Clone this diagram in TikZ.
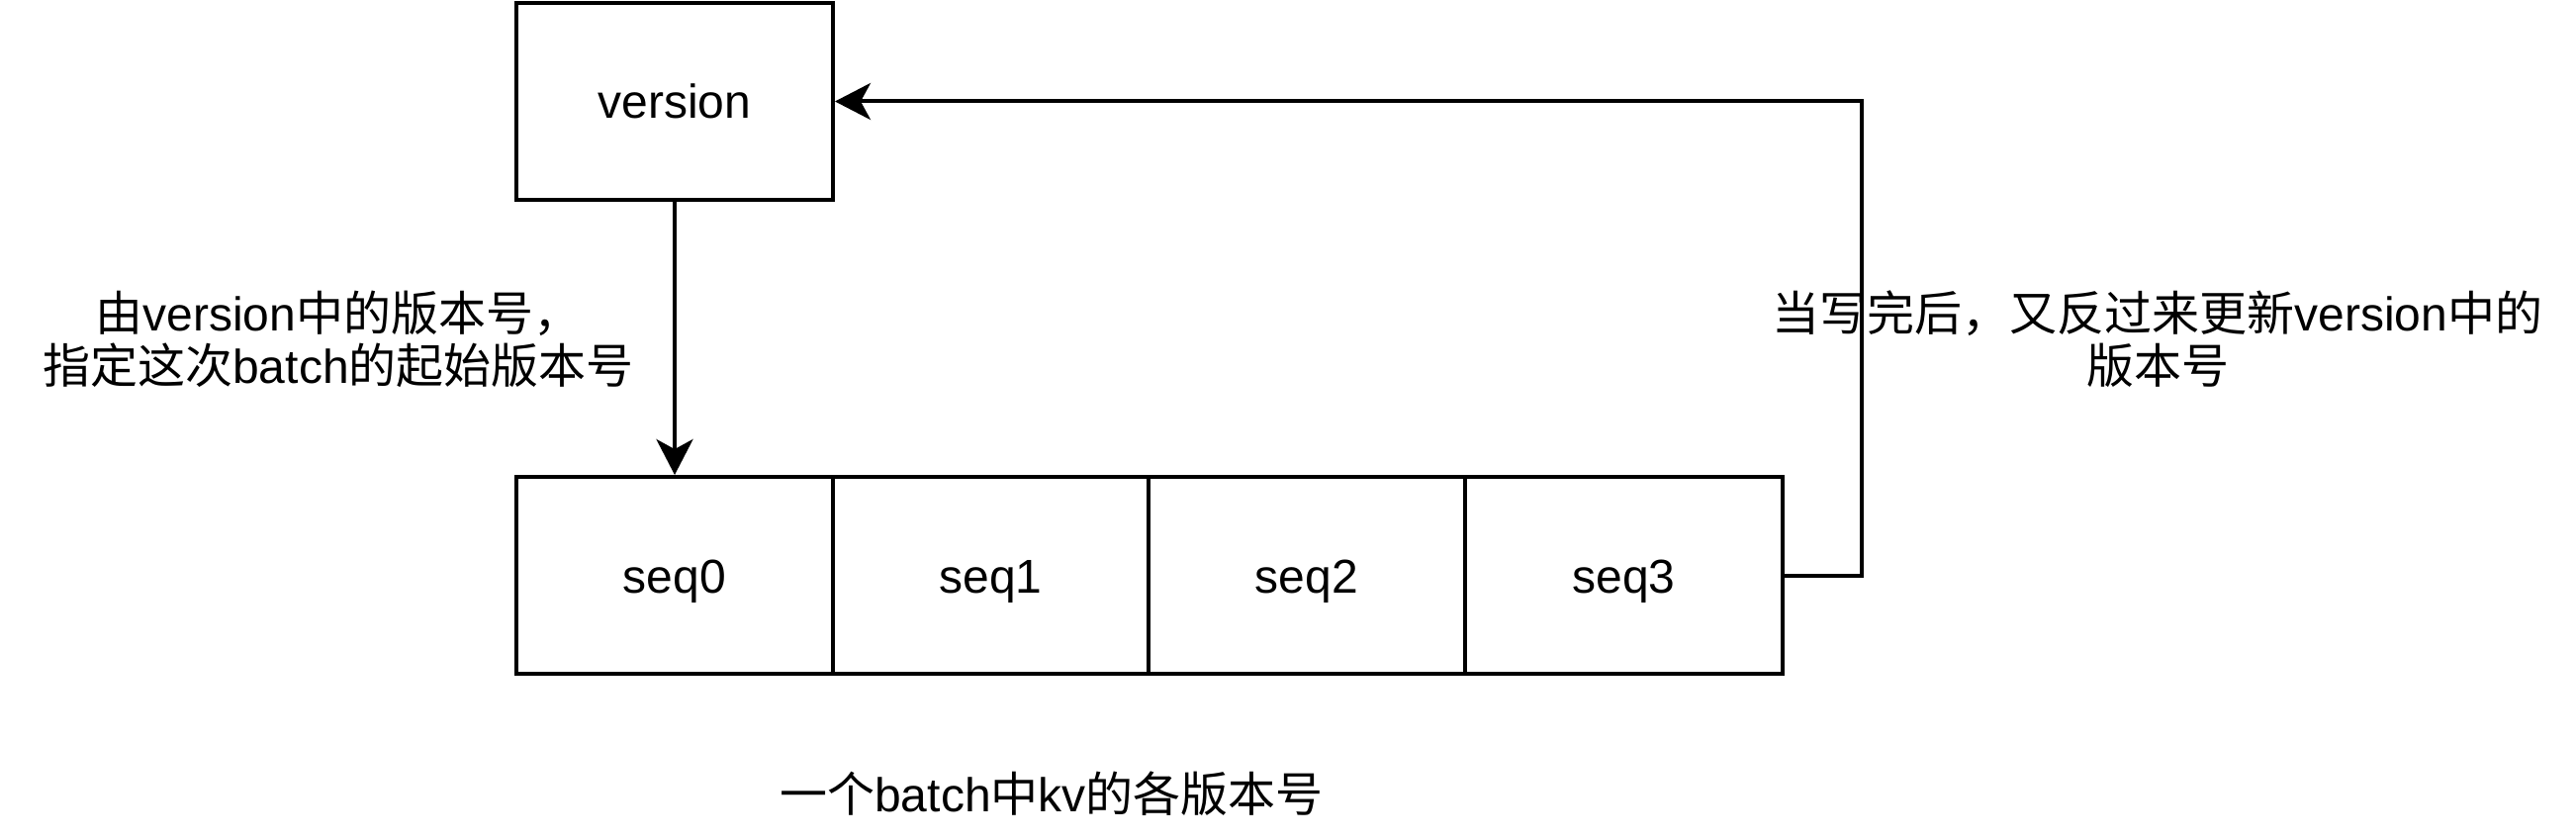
\documentclass[tikz,border=0pt]{standalone}
\usepackage{fontspec}
\setmainfont{Liberation Sans}
\newfontfamily\cjk{Noto Sans CJK SC}
\usetikzlibrary{arrows.meta}
\tikzset{
  box/.style={draw, line width=4pt, inner sep=0pt, minimum width=320pt, minimum height=199pt, text height=35pt, text depth=0pt, font=\fontsize{48}{53}\selectfont},
  lbl/.style={inner sep=0pt, align=center, font=\fontsize{48}{53}\selectfont},
  conn/.style={line width=4pt, -{Stealth[length=36pt, width=37pt, inset=10pt]}}
}
\begin{document}
\begin{tikzpicture}[x=1pt,y=-1pt]
\useasboundingbox (0,0) rectangle (2604,848);
\node[box] (version) at (682,102.5) {version};
\node[box, minimum width=320pt] (seq0) at (682,581.5) {seq0};
\node[box, minimum width=319pt] (seq1) at (1001.5,581.5) {seq1};
\node[box, minimum width=320pt] (seq2) at (1321,581.5) {seq2};
\node[box, minimum width=321pt] (seq3) at (1641.5,581.5) {seq3};
\coordinate (turn) at (1882,0);
\draw[conn] (version.south) -- (seq0.north);
\draw[conn] (seq3.east) -- (turn |- seq3.east) -- (turn |- version.east) -- (version.east);
\node[lbl] (lleft) at (342,343) {{\cjk 由}version{\cjk 中的版本号，}\\{\cjk 指定这次}batch{\cjk 的起始版本号}};
\node[lbl] (lright) at (2181,343) {{\cjk 当写完后，又反过来更新}version{\cjk 中的}\\{\cjk 版本号}};
\node[lbl] (lbottom) at (1063,802) {{\cjk 一个}batch{\cjk 中}kv{\cjk 的各版本号}};
\end{tikzpicture}
\end{document}
